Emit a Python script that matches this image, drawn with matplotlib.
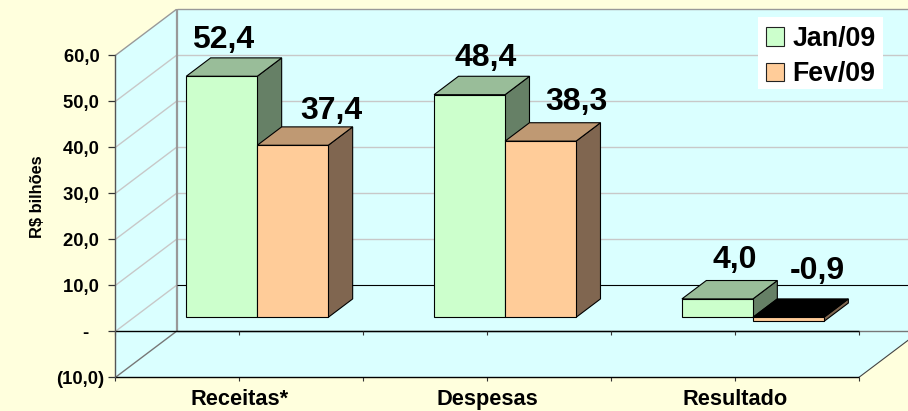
import numpy as np
import matplotlib
matplotlib.use("Agg")
import matplotlib.pyplot as plt
from matplotlib.patches import Polygon, Patch, Rectangle

categories = ["Receitas*", "Despesas", "Resultado"]
series_names = ["Jan/09", "Fev/09"]
jan_values = [52.4, 48.4, 4.0]
fev_values = [37.4, 38.3, -0.9]
y_ticks = [-10, 0, 10, 20, 30, 40, 50, 60]
y_labels = ["(10,0)", "-   ", "10,0 ", "20,0 ", "30,0 ", "40,0 ", "50,0 ", "60,0 "]
label_texts = [["52,4", "48,4", "4,0"], ["37,4", "38,3", "-0,9"]]

W, H = 908, 411
LEFT, RIGHT, BOTTOM, TOP = 115.5, 859.0, 377.3, 55.3
BG = "#FFFFDD"
WALL = "#DAFFFF"
FRONT = ["#CCFFCC", "#FFCC99"]
TOPC = ["#99BD99", "#BF9973"]
SIDE = ["#668066", "#806650"]
label_dx_px = [[1.5, 16, 17], [39, 35.5, 29]]
label_dy_px = [18, 18, 21], [16, 20.5, 28]

plt.rcParams["font.family"] = ["Liberation Sans", "DejaVu Sans"]
plt.rcParams["font.weight"] = "bold"

fig = plt.figure(figsize=(W / 100, H / 100), dpi=100, facecolor=BG)
ax = fig.add_axes([LEFT / W, 1 - BOTTOM / H, (RIGHT - LEFT) / W, (BOTTOM - TOP) / H])
ax.set_xlim(0, 3)
ax.set_ylim(-10, 60)
ax.patch.set_visible(False)

px_x = 3 / (RIGHT - LEFT)
px_y = 70 / (BOTTOM - TOP)
DEPTH_X = 61 * px_x
DEPTH_Y = 46 * px_y


def P(x, y, d=0.0):
    return (x + d * DEPTH_X, y + d * DEPTH_Y)


def poly(points, fc="none", ec="none", lw=0.8, z=1):
    ax.add_patch(Polygon(points, closed=True, facecolor=fc, edgecolor=ec,
                         linewidth=lw, zorder=z, clip_on=False, joinstyle="miter"))


def line(a, b, color, lw=0.8, z=2):
    ax.plot([a[0], b[0]], [a[1], b[1]], color=color, lw=lw, zorder=z,
            clip_on=False, solid_capstyle="butt")


# walls and floor
poly([P(0, -10, 1), P(3, -10, 1), P(3, 60, 1), P(0, 60, 1)], fc=WALL, z=1)
poly([P(0, -10), P(0, -10, 1), P(0, 60, 1), P(0, 60)], fc=WALL, z=1)
poly([P(0, -10), P(3, -10), P(3, -10, 1), P(0, -10, 1)], fc=WALL, z=1)

for v in y_ticks[2:-1]:
    line(P(0, v), P(0, v, 1), "#C8C8C8", 1.0)
    line(P(0, v, 1), P(3, v, 1), "#C8C8C8", 1.0)
line(P(0, 0), P(0, 0, 1), "#C8C8C8", 1.0)
line(P(0, 60), P(0, 60, 1), "#999999", 1.0)
line(P(0, 60, 1), P(3, 60, 1), "#999999", 1.0)
line(P(0, -10, 1), P(0, 60, 1), "#999999", 1.6)
line(P(0, -10), P(0, -10, 1), "#777777", 1.0)
line(P(3, -10), P(3, -10, 1), "#444444", 0.8)
line(P(0, -10, 1), P(3, -10, 1), "#777777", 1.0)
line(P(0, 0, 1), P(3, 0, 1), "#000000", 0.8, 3)
line(P(0, 0), P(3, 0), "#000000", 1.0, 3)
line(P(0, -10), P(3, -10), "#000000", 1.0, 3)

# ticks on the zero line
tick_x = np.arange(0, 3.01, 0.5)
ax.vlines(tick_x, 0, -4 * px_y, color="#333333", lw=0.8, zorder=3, clip_on=False)

# 3-D bars
n_cat = len(categories)
bar_w = 71 * px_x
d0, d1 = 0.304, 0.704
all_values = [jan_values, fev_values]
for i in range(n_cat):
    center = i + 0.5 - 0.7 * px_x
    for s, vals in enumerate(all_values):
        v = vals[i]
        x0 = center - bar_w + s * bar_w
        x1 = x0 + bar_w
        hi, lo = max(v, 0), min(v, 0)
        top_color = TOPC[s] if v >= 0 else "#000000"
        z = 5 + s + i * 2
        poly([P(x1, lo, d0), P(x1, lo, d1), P(x1, hi, d1), P(x1, hi, d0)],
             fc=SIDE[s], ec="black", z=z)
        poly([P(x0, hi, d0), P(x1, hi, d0), P(x1, hi, d1), P(x0, hi, d1)],
             fc=top_color, ec="black", z=z)
        poly([P(x0, lo, d0), P(x1, lo, d0), P(x1, hi, d0), P(x0, hi, d0)],
             fc=FRONT[s], ec="black", z=z)
        anchor = P(x0 + bar_w / 2, hi, d1)
        front_x = P(x0 + bar_w / 2, 0, d0)[0]
        ax.annotate(label_texts[s][i], xy=(front_x, anchor[1]),
                    xytext=(label_dx_px[s][i] * 0.72, label_dy_px[s][i] * 0.72),
                    textcoords="offset points", ha="center", va="center",
                    fontsize=23, fontweight="bold", color="black",
                    zorder=20, annotation_clip=False)

# axes
for name in ("top", "right", "bottom"):
    ax.spines[name].set_visible(False)
ax.spines["left"].set_color("#555555")
ax.spines["left"].set_linewidth(1.0)
ax.spines["left"].set_zorder(4)
ax.set_yticks(y_ticks)
ax.set_yticklabels(y_labels, fontsize=13.3, fontweight="bold")
ax.tick_params(axis="y", length=5, width=0.9, color="#333333", pad=3)
ax.set_xticks(tick_x)
xl = [""] * len(tick_x)
xl[1::2] = categories
ax.set_xticklabels(xl, fontsize=15.7, fontweight="bold")
ax.tick_params(axis="x", length=3, width=0.8, color="#333333", pad=5.5)

fig.text(37.5 / W, 1 - 197 / H, "R$ bilhões", rotation=90, ha="center", va="center",
         fontsize=11.8, fontweight="bold")

# legend: white box, then a frameless legend on top
ax.add_patch(Rectangle((758 / W, 1 - 89 / H), 125 / W, 72 / H, transform=fig.transFigure,
                       facecolor="white", edgecolor="none", zorder=29, clip_on=False))
handles = [Patch(facecolor=FRONT[k], edgecolor="#222222", linewidth=0.8, label=series_names[k])
           for k in range(2)]
leg = ax.legend(handles=handles, loc="upper left",
                bbox_to_anchor=(766 / W, 1 - 26 / H), bbox_transform=fig.transFigure,
                prop={"size": 19.3, "weight": "bold"}, frameon=False,
                borderaxespad=0, borderpad=0, handlelength=0.68, handleheight=0.68,
                handletextpad=0.3, labelspacing=0.35)
leg.set_zorder(30)

fig.savefig("out.png", dpi=100, facecolor=BG)
